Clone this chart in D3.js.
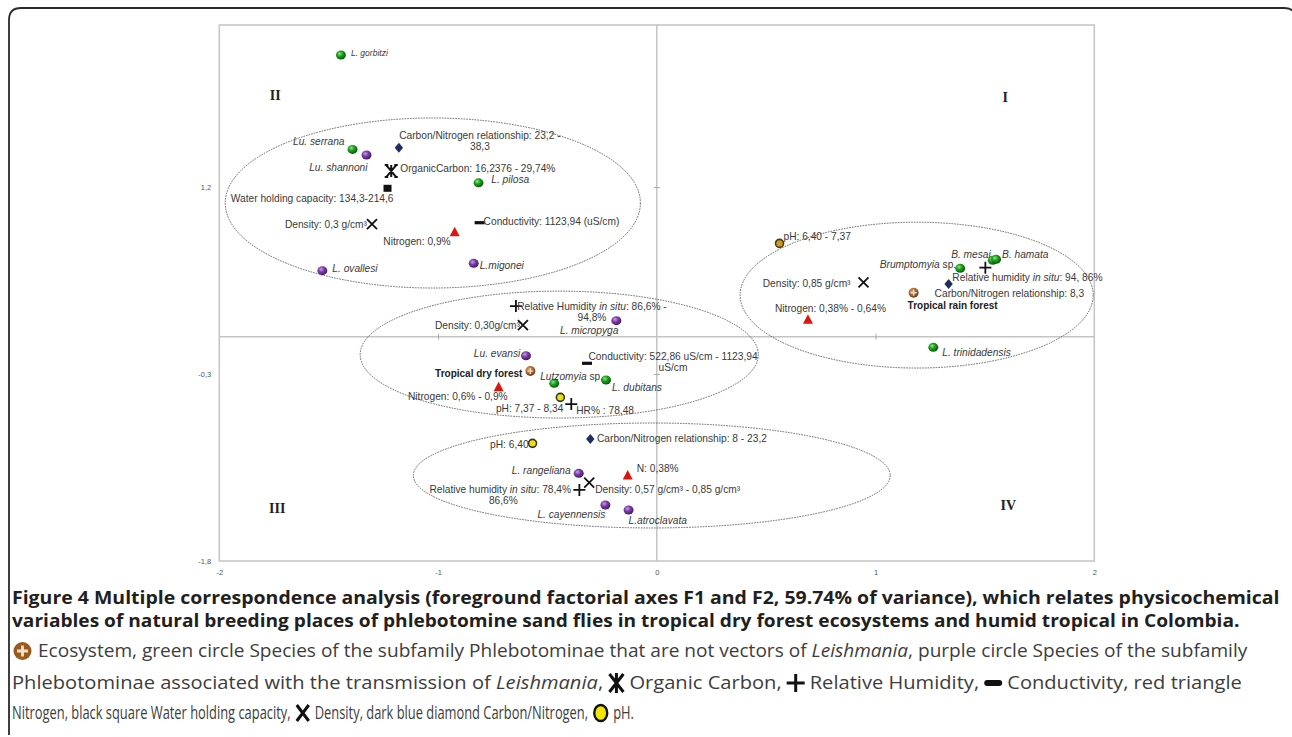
<!DOCTYPE html>
<html><head><meta charset="utf-8">
<script src="https://cdn.jsdelivr.net/npm/d3@7/dist/d3.min.js"></script>
<style>
body{margin:0;background:#fff;}
svg{display:block;}
</style></head><body>
<svg id="chart" width="1292" height="737"></svg>
<script>
// ---------------- DATA ----------------
const xDomain = [-2, 2];
const yDomain = [-1.8, 2.5];
const xTicks = [-2, -1, 0, 1, 2];
const yTicks = [-1.8, -0.3, 1.2];
const quadrantLabels = ["I", "II", "III", "IV"];

// Species (F1, F2) ; group: nonvector (green) / vector (purple)
const speciesNames = ["*L. gorbitzi*", "*Lu. serrana*", "*Lu. shannoni*", "*L. pilosa*", "*L.migonei*", "*L. ovallesi*",
  "*B. mesai*", "*B. hamata*", "*Brumptomyia* sp.", "*L. trinidadensis*", "*L. micropyga*", "*Lu. evansi*",
  "*Lutzomyia* sp.", "*L. dubitans*", "*L. rangeliana*", "*L. cayennensis*", "*L.atroclavata*"];
const speciesF1 = [-1.444, -1.391, -1.327, -0.815, -0.837, -1.529, 1.536, 1.551, 1.387, 1.264, -0.185, -0.598, -0.469, -0.232, -0.357, -0.235, -0.129];
const speciesF2 = [2.259, 1.502, 1.457, 1.234, 0.588, 0.529, 0.612, 0.620, 0.548, -0.086, 0.128, -0.153, -0.375, -0.348, -1.097, -1.351, -1.391];
const speciesGroup = ["nonvector", "nonvector", "vector", "nonvector", "vector", "vector", "nonvector", "nonvector", "nonvector", "nonvector",
  "vector", "vector", "nonvector", "nonvector", "vector", "vector", "vector"];

// Physicochemical variable categories
const varLabels = [
  "Carbon/Nitrogen relationship:  23,2 -|38,3",
  "OrganicCarbon: 16,2376 - 29,74%",
  "Water holding capacity:  134,3-214,6",
  "Density: 0,3 g/cm³",
  "Conductivity: 1123,94 (uS/cm)",
  "Nitrogen: 0,9%",
  "pH: 6,40 - 7,37",
  "Relative humidity *in situ*: 94, 86%",
  "Carbon/Nitrogen relationship: 8,3",
  "Density: 0,85 g/cm³",
  "Nitrogen: 0,38% - 0,64%",
  "Relative Humidity *in situ*: 86,6% -|94,8%",
  "Density: 0,30g/cm³",
  "Conductivity: 522,86 uS/cm - 1123,94|uS/cm",
  "Nitrogen: 0,6% - 0,9%",
  "pH: 7,37 - 8,34",
  "HR% : 78,48",
  "pH: 6,40",
  "Carbon/Nitrogen relationship: 8 - 23,2",
  "N: 0,38%",
  "Density: 0,57 g/cm³ - 0,85 g/cm³",
  "Relative humidity *in situ*: 78,4% -|86,6%"
];
const varType = ["cn", "oc", "whc", "density", "cond", "n", "ph2", "rh", "cn", "density", "n", "rh", "density", "cond", "n", "ph", "rh", "ph", "cn", "n", "density", "rh"];
const varF1 = [-1.179, -1.214, -1.231, -1.302, -0.810, -0.924, 0.561, 1.502, 1.334, 0.945, 0.691, -0.644, -0.612, -0.319, -0.723, -0.441, -0.391, -0.568, -0.304, -0.133, -0.309, -0.354];
const varF2 = [1.515, 1.328, 1.190, 0.903, 0.914, 0.841, 0.748, 0.553, 0.422, 0.436, 0.139, 0.245, 0.093, -0.214, -0.402, -0.487, -0.541, -0.856, -0.821, -1.110, -1.172, -1.230];

// Ecosystems
const ecoNames = ["Tropical rain forest", "Tropical dry forest"];
const ecoF1 = [1.174, -0.578];
const ecoF2 = [0.352, -0.276];

// Grouping ellipses (centre and radii in factorial units)
const ellipseCx = [-1.024, 1.188, -0.446, -0.023];
const ellipseCy = [1.072, 0.333, -0.144, -1.114];
const ellipseRx = [0.949, 0.807, 0.910, 1.090];
const ellipseRy = [0.682, 0.585, 0.509, 0.421];

// Caption text
const captionBold = [
  "Figure 4 Multiple correspondence analysis (foreground factorial axes F1 and F2, 59.74% of variance), which relates physicochemical",
  "variables of natural breeding places of phlebotomine sand flies in tropical dry forest ecosystems and humid tropical in Colombia."
];
const captionLine3 = [["icon", "eco"], ["text", "Ecosystem, green circle Species of the subfamily Phlebotominae that are not vectors of *Leishmania*, purple circle Species of the subfamily"]];
const captionLine4 = [["text", "Phlebotominae associated with the transmission of *Leishmania*,"], ["icon", "oc"], ["text", "Organic Carbon,"],
  ["icon", "rh"], ["text", "Relative Humidity,"], ["icon", "cond"], ["text", "Conductivity, red triangle"]];
const captionLine5 = [["text", "Nitrogen, black square Water holding capacity,"], ["icon", "density"], ["text", "Density, dark blue diamond Carbon/Nitrogen,"],
  ["icon", "ph"], ["text", "pH."]];

// ---------------- LAYOUT (pixels) ----------------
const quadrantPos = [[1.593, 1.922], [-1.744, 1.937], [-1.735, -1.375], [1.607, -1.351]];
const speciesLabelLayout = [[10,-3,"start"],[-8,-8,"end"],[1,12,"end"],[12.7,-3,"start"],[6,2,"start"],[10,-2,"start"],
  [-2,-6,"end"],[6,-5,"start"],[-4,-4,"end"],[9,5,"start"],[2,10,"end"],[-5.7,-2,"end"],[-14,-7,"start"],[6,7,"start"],
  [-8,-3,"end"],[0,9,"end"],[0,10,"start"]];
const varLabelLayout = [[81,-12,"middle"],[9,-3,"start"],[6,10,"end"],[-5,0,"end"],[4,-1,"start"],[-4,10,"end"],[4,-7,"start"],
  [-33,10,"start"],[-14,9,"start"],[-13,1,"end"],[-33,-11,"start"],[76,0,"middle"],[-3,0,"end"],[86,-6.6,"middle"],
  [9,10,"end"],[3,11,"end"],[5,6,"start"],[-4,1.5,"end"],[6.7,0,"start"],[9,-6,"start"],[6,7,"start"],[-76,0,"middle"]];
const ecoLabelLayout = [[-6,13,"start"],[-8,2,"end"]];

const svg = d3.select("#chart");
const FONT = "'Liberation Sans', Arial, sans-serif";
const LABEL_SIZE = 10.2;

// defs: glossy gradients
const defs = svg.append("defs");
function radial(id, stops) {
  const g = defs.append("radialGradient").attr("id", id).attr("cx", "38%").attr("cy", "35%").attr("r", "65%");
  stops.forEach(s => g.append("stop").attr("offset", s[0]).attr("stop-color", s[1]));
}
radial("gGreen", [["0%", "#8fe88f"], ["45%", "#1ea01e"], ["100%", "#0b5a0b"]]);
radial("gPurple", [["0%", "#c9a2e6"], ["45%", "#7b3fa8"], ["100%", "#451c68"]]);
radial("gEco", [["0%", "#d9a878"], ["55%", "#a56a35"], ["100%", "#6b3f18"]]);

// outer frame
svg.append("path")
  .attr("d", `M9,735 L9,20 Q9,8 21,8 L1284,8 Q1296,8 1296,20 L1296,735`)
  .attr("fill", "none").attr("stroke", "#2a2a2a").attr("stroke-width", 1.8);

const x = d3.scaleLinear().domain(xDomain).range([219.3, 1094.3]);
const y = d3.scaleLinear().domain(yDomain).range([561, 25]);
const loc = d3.formatLocale({decimal: ",", thousands: ".", grouping: [3], currency: ["", ""], minus: "-"});
const fmt = loc.format("");

// plot frame
svg.append("rect").attr("x", x(-2)).attr("y", y(2.5)).attr("width", x(2) - x(-2)).attr("height", y(-1.8) - y(2.5))
  .attr("fill", "none").attr("stroke", "#c4c4c4").attr("stroke-width", 1.5);
// central axes
svg.append("line").attr("x1", x(-2)).attr("x2", x(2)).attr("y1", y(0)).attr("y2", y(0)).attr("stroke", "#c4c4c4").attr("stroke-width", 1.5);
svg.append("line").attr("x1", x(0)).attr("x2", x(0)).attr("y1", y(2.5)).attr("y2", y(-1.8)).attr("stroke", "#c4c4c4").attr("stroke-width", 1.5);

// tick marks on central axes
const hx = svg.append("g").attr("transform", `translate(0,${y(0) + 3})`)
  .call(d3.axisBottom(x).tickValues([-1, 1]).tickSizeInner(-6).tickSizeOuter(0).tickFormat(""));
hx.select(".domain").remove(); hx.selectAll("line").attr("stroke", "#aaa");
const vy = svg.append("g").attr("transform", `translate(${x(0) - 3},0)`)
  .call(d3.axisLeft(y).tickValues([-0.3, 1.2]).tickSizeInner(-6).tickSizeOuter(0).tickFormat(""));
vy.select(".domain").remove(); vy.selectAll("line").attr("stroke", "#aaa");

// tick labels
const ax = svg.append("g").attr("transform", `translate(0,${y(-1.8)})`)
  .call(d3.axisBottom(x).tickValues(xTicks).tickSize(0).tickPadding(9).tickFormat(fmt));
ax.select(".domain").remove();
ax.selectAll("text").attr("font-family", FONT).attr("font-size", 7.5).attr("fill", "#555");
const ay = svg.append("g").attr("transform", `translate(${x(-2)},0)`)
  .call(d3.axisLeft(y).tickValues(yTicks).tickSize(0).tickPadding(8).tickFormat(fmt));
ay.select(".domain").remove();
ay.selectAll("text").attr("font-family", FONT).attr("font-size", 7.5).attr("fill", "#555");

// quadrant labels
svg.append("g").selectAll("text").data(quadrantLabels).join("text")
  .attr("x", (d, i) => x(quadrantPos[i][0])).attr("y", (d, i) => y(quadrantPos[i][1]) + 5)
  .attr("text-anchor", "middle").attr("font-family", "'Liberation Serif', 'Times New Roman', serif")
  .attr("font-weight", "bold").attr("font-size", 14).attr("fill", "#222").text(d => d);

// ellipses
svg.append("g").selectAll("ellipse").data(ellipseCx).join("ellipse")
  .attr("cx", (d, i) => x(ellipseCx[i])).attr("cy", (d, i) => y(ellipseCy[i]))
  .attr("rx", (d, i) => x(ellipseRx[i]) - x(0)).attr("ry", (d, i) => y(0) - y(ellipseRy[i]))
  .attr("fill", "none").attr("stroke", "#555").attr("stroke-width", 0.9).attr("stroke-dasharray", "1.6,1.1");

// rich label helper
function richText(g, str, px, py, lay, opts) {
  const t = g.append("text").attr("font-family", FONT).attr("font-size", opts.size || LABEL_SIZE)
    .attr("fill", "#3a3a3a").attr("text-anchor", lay[2]);
  if (opts.bold) t.attr("font-weight", "bold").attr("fill", "#222");
  const lh = 11;
  const X = px + lay[0];
  t.attr("x", X).attr("y", py + lay[1] + 3.5);
  str.split("|").forEach((ln, i) => {
    let first = true;
    ln.split("*").forEach((p, j) => {
      if (!p) return;
      const ts = t.append("tspan").text(p).attr("font-style", j % 2 ? "italic" : "normal");
      if (first) { ts.attr("x", X); if (i > 0) ts.attr("dy", lh); first = false; }
    });
  });
  return t;
}

// markers
function drawMarker(g, type, cx, cy) {
  const m = g.append("g").attr("transform", `translate(${cx},${cy})`);
  switch (type) {
    case "cn":
      m.append("path").attr("d", "M0,-5L4.2,0L0,5L-4.2,0Z").attr("fill", "#1f2e5e"); break;
    case "oc":
      m.append("path").attr("d", "M-5,-6L5,6M-5,6L5,-6M0,-6L0,6M-6.5,-6L-3,-6M3,-6L6.5,-6M-6.5,6L-3,6M3,6L6.5,6")
        .attr("stroke", "#111").attr("stroke-width", 2); break;
    case "whc":
      m.append("rect").attr("x", -4).attr("y", -3.5).attr("width", 8).attr("height", 7).attr("fill", "#111"); break;
    case "density":
      m.append("path").attr("d", "M-5,-5L5,5M-5,5L5,-5").attr("stroke", "#111").attr("stroke-width", 1.8); break;
    case "cond":
      m.append("rect").attr("x", -5).attr("y", -1.6).attr("width", 10).attr("height", 3.2).attr("fill", "#111"); break;
    case "n":
      m.append("path").attr("d", "M0,-5L5,4.5L-5,4.5Z").attr("fill", "#e0140f"); break;
    case "rh":
      m.append("path").attr("d", "M-6,0L6,0M0,-6L0,6").attr("stroke", "#111").attr("stroke-width", 1.8); break;
    case "ph":
      m.append("circle").attr("r", 4).attr("fill", "#ece400").attr("stroke", "#333").attr("stroke-width", 1.6); break;
    case "ph2":
      m.append("circle").attr("r", 4).attr("fill", "#c89a28").attr("stroke", "#4a3a10").attr("stroke-width", 1.6); break;
  }
}

const gMarks = svg.append("g");
const gLabels = svg.append("g");

// variables
varLabels.forEach((lab, i) => {
  const px = x(varF1[i]), py = y(varF2[i]);
  drawMarker(gMarks, varType[i], px, py);
  richText(gLabels, lab, px, py, varLabelLayout[i], {});
});

// ecosystems
ecoNames.forEach((lab, i) => {
  const px = x(ecoF1[i]), py = y(ecoF2[i]);
  const m = gMarks.append("g").attr("transform", `translate(${px},${py})`);
  m.append("circle").attr("r", 5).attr("fill", "url(#gEco)");
  m.append("path").attr("d", "M-3,0L3,0M0,-3L0,3").attr("stroke", "#f3dcc0").attr("stroke-width", 1.3);
  richText(gLabels, lab, px, py, ecoLabelLayout[i], {bold: true, size: 10});
});

// species
speciesNames.forEach((lab, i) => {
  const px = x(speciesF1[i]), py = y(speciesF2[i]);
  gMarks.append("ellipse").attr("cx", px).attr("cy", py).attr("rx", 5).attr("ry", 4.5)
    .attr("fill", speciesGroup[i] === "vector" ? "url(#gPurple)" : "url(#gGreen)");
  richText(gLabels, lab, px, py, speciesLabelLayout[i], {size: i === 0 ? 8.5 : LABEL_SIZE});
});

// ---------------- CAPTION ----------------
const cap = svg.append("g");
const CFONT = "'Open Sans', 'Liberation Sans', sans-serif";
const boldLay = [[12, 604, 1269], [12, 627, 1228]];
captionBold.forEach((t, i) => {
  const g = cap.append("g");
  const tx = g.append("text").attr("font-family", CFONT)
    .attr("font-weight", "bold").attr("font-size", 17).attr("fill", "#231f20").text(t);
  const w = tx.node().getComputedTextLength();
  g.attr("transform", `translate(${boldLay[i][0]},${boldLay[i][1]}) scale(${boldLay[i][2] / w},1)`);
});
const iconW = {eco: 21, oc: 16, rh: 18, cond: 18, density: 14, ph: 15};
function capIcon(type, cx, cy) {
  const m = cap.append("g").attr("transform", `translate(${cx},${cy})`);
  if (type === "eco") {
    m.append("circle").attr("r", 9).attr("fill", "#9a5a1e");
    m.append("path").attr("d", "M-5.5,0L5.5,0M0,-5.5L0,5.5").attr("stroke", "#f4e2c8").attr("stroke-width", 2.8);
  } else if (type === "oc") {
    m.append("path").attr("d", "M-7,-9L7,9M-7,9L7,-9M0,-10L0,10").attr("stroke", "#111").attr("stroke-width", 3);
  } else if (type === "rh") {
    m.append("path").attr("d", "M-9,0L9,0M0,-9L0,9").attr("stroke", "#111").attr("stroke-width", 3);
  } else if (type === "cond") {
    m.append("rect").attr("x", -9).attr("y", -3).attr("width", 18).attr("height", 6).attr("rx", 3).attr("fill", "#111");
  } else if (type === "density") {
    m.append("path").attr("d", "M-6,-8L6,8M-6,8L6,-8").attr("stroke", "#111").attr("stroke-width", 3);
  } else if (type === "ph") {
    m.append("ellipse").attr("rx", 6.5).attr("ry", 8).attr("fill", "#f2e600").attr("stroke", "#111").attr("stroke-width", 2.4);
  }
}
// lay a caption line out with one uniform horizontal compression for all its text pieces
function capLine(items, x0, x1, yc) {
  const gap = 5;
  const texts = [];
  items.forEach(it => {
    if (it[0] === "text") {
      const g = cap.append("g");
      const t = g.append("text").attr("font-family", CFONT).attr("font-size", 18).attr("fill", "#3d3d3d");
      it[1].split("*").forEach((p, j) => { if (p) t.append("tspan").attr("font-style", j % 2 ? "italic" : "normal").text(p); });
      texts.push({g, w: t.node().getComputedTextLength()});
    }
  });
  let fixed = 0;
  items.forEach((it, k) => { if (it[0] === "icon") fixed += iconW[it[1]] + (k === 0 ? gap : 2 * gap); });
  const natural = d3.sum(texts, d => d.w);
  const kf = (x1 - x0 - fixed) / natural;
  let cx = x0, ti = 0;
  items.forEach((it, k) => {
    if (it[0] === "icon") {
      if (k > 0) cx += gap;
      capIcon(it[1], cx + iconW[it[1]] / 2, yc);
      cx += iconW[it[1]] + gap;
    } else {
      const d = texts[ti++];
      d.g.attr("transform", `translate(${cx},${yc + 6}) scale(${kf},1)`);
      cx += d.w * kf;
    }
  });
}
capLine(captionLine3, 12, 1248, 651);
capLine(captionLine4, 12, 1242, 683);
capLine(captionLine5, 12, 634, 713);
</script>
</body></html>
